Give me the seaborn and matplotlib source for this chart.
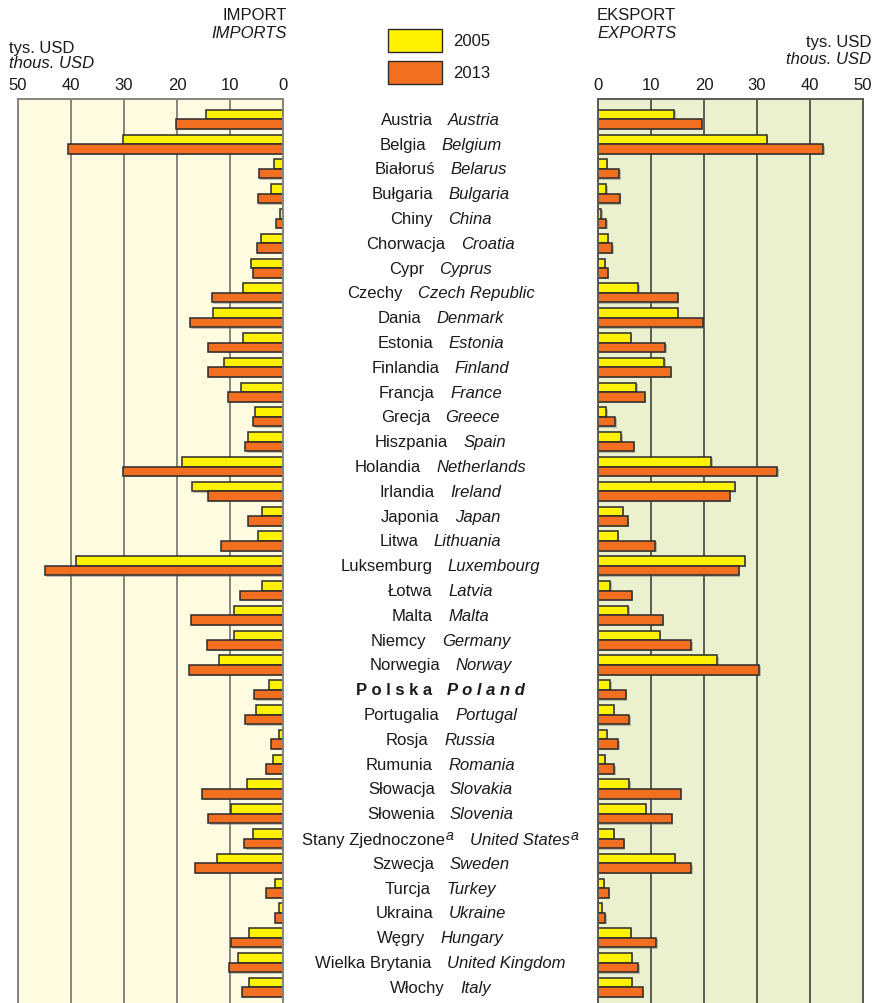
import pandas as pd
import matplotlib.pyplot as plt
import seaborn as sns
import matplotlib.patheffects as pe
import matplotlib.transforms as mtransforms
from matplotlib.offsetbox import TextArea, HPacker, AnnotationBbox
from matplotlib.patches import Rectangle

# ---- data (thous. USD) ----
countries_pl = ['Austria', 'Belgia', 'Białoruś', 'Bułgaria', 'Chiny', 'Chorwacja', 'Cypr',
                'Czechy', 'Dania', 'Estonia', 'Finlandia', 'Francja', 'Grecja', 'Hiszpania',
                'Holandia', 'Irlandia', 'Japonia', 'Litwa', 'Luksemburg', 'Łotwa', 'Malta',
                'Niemcy', 'Norwegia', 'Polska', 'Portugalia', 'Rosja', 'Rumunia', 'Słowacja',
                'Słowenia', 'Stany Zjednoczone', 'Szwecja', 'Turcja', 'Ukraina', 'Węgry',
                'Wielka Brytania', 'Włochy']
countries_en = ['Austria', 'Belgium', 'Belarus', 'Bulgaria', 'China', 'Croatia', 'Cyprus',
                'Czech Republic', 'Denmark', 'Estonia', 'Finland', 'France', 'Greece', 'Spain',
                'Netherlands', 'Ireland', 'Japan', 'Lithuania', 'Luxembourg', 'Latvia', 'Malta',
                'Germany', 'Norway', 'Poland', 'Portugal', 'Russia', 'Romania', 'Slovakia',
                'Slovenia', 'United States', 'Sweden', 'Turkey', 'Ukraine', 'Hungary',
                'United Kingdom', 'Italy']

import_2005 = [14.5, 30.2, 1.7, 2.3, 0.5, 4.2, 6.1, 7.5, 13.3, 7.6, 11.1, 8.0, 5.2, 6.6,
               19.0, 17.2, 4.0, 4.7, 39.0, 3.9, 9.3, 9.3, 12.0, 2.7, 5.1, 0.8, 1.9, 6.7,
               9.8, 5.7, 12.4, 1.6, 0.8, 6.5, 8.5, 6.5]
import_2013 = [20.2, 40.6, 4.6, 4.8, 1.4, 4.9, 5.6, 13.4, 17.6, 14.2, 14.2, 10.4, 5.6, 7.1,
               30.2, 14.2, 6.6, 11.7, 45.0, 8.2, 17.4, 14.3, 17.8, 5.4, 7.1, 2.2, 3.3, 15.3,
               14.1, 7.3, 16.6, 3.3, 1.6, 9.9, 10.2, 7.8]
export_2005 = [14.4, 31.9, 1.7, 1.6, 0.6, 1.9, 1.3, 7.6, 15.1, 6.2, 12.5, 7.2, 1.6, 4.4,
               21.4, 25.8, 4.7, 3.7, 27.7, 2.3, 5.7, 11.7, 22.5, 2.3, 3.0, 1.7, 1.3, 5.9,
               9.0, 3.0, 14.5, 1.1, 0.7, 6.2, 6.4, 6.4]
export_2013 = [19.7, 42.5, 4.0, 4.1, 1.6, 2.7, 1.8, 15.1, 19.9, 12.7, 13.7, 8.8, 3.3, 6.7,
               33.8, 24.9, 5.6, 10.8, 26.6, 6.4, 12.2, 17.6, 30.4, 5.3, 5.9, 3.8, 3.1, 15.6,
               13.9, 4.9, 17.6, 2.0, 1.4, 11.0, 7.6, 8.5]
years = ['2005', '2013']

YELLOW = '#FFF200'
ORANGE = '#F26F22'
EDGE = '#2b2b2b'

sns.set_theme(style='white')
plt.rcParams['font.family'] = ['Liberation Sans', 'DejaVu Sans']
plt.rcParams['mathtext.fontset'] = 'custom'
plt.rcParams['mathtext.rm'] = 'Liberation Sans'
plt.rcParams['mathtext.it'] = 'Liberation Sans:italic'
plt.rcParams['mathtext.bf'] = 'Liberation Sans:bold'

W, H = 878, 1004
fig = plt.figure(figsize=(W / 100, H / 100), dpi=100)


def px_rect(x0, x1, y0, y1):
    # pixel box (from top-left) -> figure fraction [left, bottom, width, height]
    return [x0 / W, 1 - y1 / H, (x1 - x0) / W, (y1 - y0) / H]


ax_imp = fig.add_axes(px_rect(18, 283, 100, 1004))
ax_exp = fig.add_axes(px_rect(598, 863, 100, 1004))

n = len(countries_pl)


def long_frame(v05, v13):
    return pd.DataFrame({
        'country': countries_pl * 2,
        'year': ['2005'] * n + ['2013'] * n,
        'value': v05 + v13,
    })


panels = [
    (ax_imp, long_frame(import_2005, import_2013), '#FFFBE0', '#85857d', (50, 0)),
    (ax_exp, long_frame(export_2005, export_2013), '#EBF0CE', '#5a5a54', (0, 50)),
]

for ax, df, bg, gridc, xlim in panels:
    ax.set_facecolor(bg)
    sns.barplot(data=df, x='value', y='country', hue='year', hue_order=years,
                order=countries_pl, palette=[YELLOW, ORANGE], saturation=1, orient='h',
                width=0.77, errorbar=None, edgecolor=EDGE, linewidth=1.1, legend=False, ax=ax)
    for p in ax.patches:
        p.set_path_effects([pe.SimplePatchShadow(offset=(1.0, -1.0), shadow_rgbFace='#777777',
                                                 alpha=0.45), pe.Normal()])
    ax.set_xlim(*xlim)
    ax.set_ylim(35.63, -0.82)
    ax.set_xticks([0, 10, 20, 30, 40, 50])
    ax.set_axisbelow(True)
    ax.grid(axis='x', color=gridc, linewidth=1.4)
    ax.grid(axis='y', visible=False)
    ax.xaxis.tick_top()
    ax.tick_params(axis='x', length=0, pad=5, labelsize=12, labelcolor='#1a1a1a')
    ax.tick_params(axis='y', left=False, labelleft=False)
    ax.set_xlabel('')
    ax.set_ylabel('')
    for side in ['top', 'left', 'right']:
        ax.spines[side].set_visible(True)
        ax.spines[side].set_color(gridc)
        ax.spines[side].set_linewidth(1.4)
    ax.spines['bottom'].set_visible(False)

# ---- country labels in the middle column ----
label_tr = mtransforms.blended_transform_factory(fig.transFigure, ax_imp.transData)
TXT = '#1a1a1a'


def name_box(s, weight, style, sup):
    parts = [TextArea(s, textprops=dict(fontsize=12, fontweight=weight, style=style, color=TXT))]
    if sup:
        parts.append(TextArea(r'$^{\mathit{a}}$', textprops=dict(fontsize=14.5, color=TXT)))
        return HPacker(children=parts, sep=0, align='baseline', pad=0)
    return parts[0]


for i, (pl, en) in enumerate(zip(countries_pl, countries_en)):
    weight = 'normal'
    sup = pl == 'Stany Zjednoczone'
    if pl == 'Polska':
        pl, en, weight = ' '.join(pl), ' '.join(en), 'bold'
    box = HPacker(children=[name_box(pl, weight, 'normal', sup),
                            name_box(en, weight, 'italic', sup)],
                  sep=11, align='baseline', pad=0)
    ab = AnnotationBbox(box, (440.5 / W, i), xycoords=label_tr, frameon=False,
                        box_alignment=(0.5, 0.5), pad=0, annotation_clip=False)
    fig.add_artist(ab)


def ftext(x, y, s, **kw):
    fig.text(x / W, 1 - y / H, s, fontsize=12, color=TXT, va='center', **kw)


# ---- headers ----
ftext(287, 15, 'IMPORT', ha='right')
ftext(287, 34, 'IMPORTS', ha='right', style='italic')
ftext(9, 48, 'tys. USD', ha='left')
ftext(9, 64, 'thous. USD', ha='left', style='italic')
ftext(597, 15, 'EKSPORT', ha='left')
ftext(597, 34, 'EXPORTS', ha='left', style='italic')
ftext(871, 43, 'tys. USD', ha='right')
ftext(871, 60, 'thous. USD', ha='right', style='italic')

# ---- legend ----
for (y0, y1), col, yr in [((30, 53), YELLOW, years[0]), ((62, 85), ORANGE, years[1])]:
    fig.add_artist(Rectangle((388 / W, 1 - y1 / H), (442 - 388) / W, (y1 - y0) / H,
                             transform=fig.transFigure, facecolor=col, edgecolor=EDGE,
                             linewidth=1.0))
    ftext(453, (y0 + y1) / 2, yr, ha='left')

fig.savefig('out.png', dpi=100)
